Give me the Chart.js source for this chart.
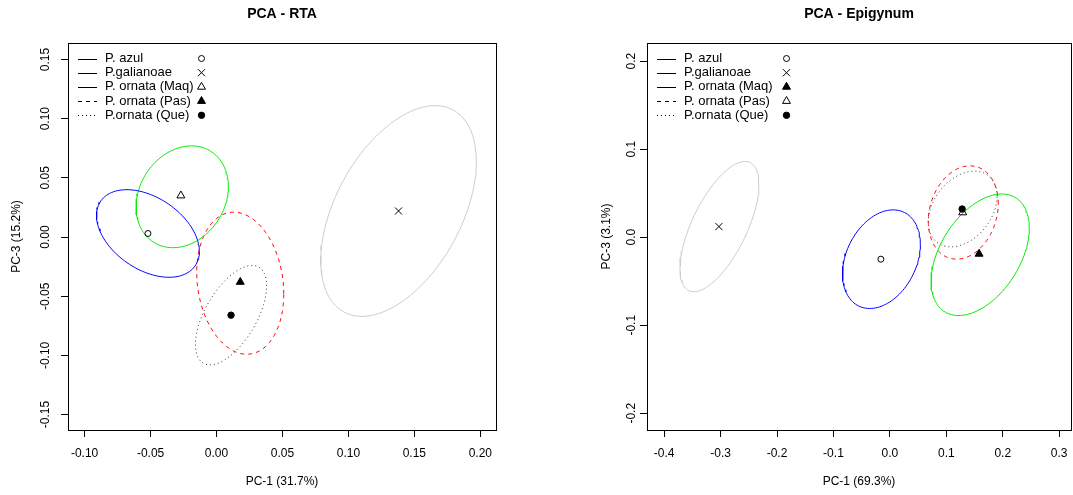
<!DOCTYPE html>
<html>
<head>
<meta charset="utf-8">
<script src="https://cdn.jsdelivr.net/npm/chart.js@4"></script>
<style>
  body { margin: 0; background: #fff; width: 1073px; height: 495px; position: relative; overflow: hidden; }
  canvas { position: absolute; top: 0; }
</style>
</head>
<body>
<canvas id="rta" width="536" height="495" style="left:0"></canvas>
<canvas id="epi" width="540" height="495" style="left:537px"></canvas>
<script>
const groups = ["P. azul", "P.galianoae", "P. ornata (Maq)", "P. ornata (Pas)", "P.ornata (Que)"];
const groupColors = ["#0000ff", "#cccccc", "#00ee00", "#ff0000", "#333333"];
const groupDash = [[], [], [], [4, 4], [1, 3]];

// PCA - RTA: group means
const rtaPC1 = [-0.052, 0.138, -0.027, 0.018, 0.011];
const rtaPC3 = [0.003, 0.022, 0.035, -0.038, -0.066];
const rtaSymbols = ["circleOpen", "crossRot", "triangleOpen", "triangle", "circle"];
// ellipses: centre, half width, half height, correlation
const rtaEllCx = [-0.052, 0.138, -0.026, 0.018, 0.011];
const rtaEllCy = [0.003, 0.022, 0.034, -0.039, -0.066];
const rtaEllW = [0.039, 0.059, 0.035, 0.033, 0.027];
const rtaEllH = [0.037, 0.089, 0.043, 0.060, 0.042];
const rtaEllR = [-0.41, 0.47, 0.20, -0.15, 0.59];
const rtaXTicks = [-0.10, -0.05, 0.00, 0.05, 0.10, 0.15, 0.20];
const rtaYTicks = [-0.15, -0.10, -0.05, 0.00, 0.05, 0.10, 0.15];

// PCA - Epigynum: group means
const epiPC1 = [-0.016, -0.303, 0.158, 0.129, 0.128];
const epiPC3 = [-0.025, 0.012, -0.019, 0.028, 0.032];
const epiSymbols = ["circleOpen", "crossRot", "triangle", "triangleOpen", "circle"];
const epiEllCx = [-0.015, -0.302, 0.160, 0.130, 0.129];
const epiEllCy = [-0.025, 0.012, -0.020, 0.028, 0.032];
const epiEllW = [0.069, 0.070, 0.087, 0.062, 0.061];
const epiEllH = [0.056, 0.074, 0.069, 0.053, 0.043];
const epiEllR = [0.30, 0.65, 0.44, 0.19, 0.34];
const epiXTicks = [-0.4, -0.3, -0.2, -0.1, 0.0, 0.1, 0.2, 0.3];
const epiYTicks = [-0.2, -0.1, 0.0, 0.1, 0.2];

Chart.defaults.font.family = "'Liberation Sans', Arial, sans-serif";
Chart.defaults.color = "#000";

function ellipse(cx, cy, w, h, r) {
  const pts = [];
  const s = Math.sqrt(1 - r * r);
  for (let i = 0; i <= 120; i++) {
    const t = i / 120 * 2 * Math.PI;
    pts.push({ x: cx + w * Math.cos(t), y: cy + h * (r * Math.cos(t) + s * Math.sin(t)) });
  }
  return pts;
}

function symbolStyle(sym) {
  const open = sym.endsWith("Open");
  const style = open ? sym.replace("Open", "") : sym;
  let radius = 3.2;
  if (style === "triangle") radius = 4.6;
  if (style === "crossRot") radius = 5;
  return { pointStyle: style, radius: open && style === "circle" ? 3 : radius, fill: open ? "rgba(0,0,0,0)" : "#000" };
}

const boxPlugin = {
  id: "box",
  afterDraw(chart) {
    const a = chart.chartArea, ctx = chart.ctx;
    ctx.save();
    ctx.strokeStyle = "#000";
    ctx.lineWidth = 1;
    ctx.strokeRect(Math.round(a.left) + 0.5, Math.round(a.top) + 0.5, Math.round(a.right - a.left), Math.round(a.bottom - a.top));
    ctx.restore();
  }
};

const legendPlugin = {
  id: "pcaLegend",
  afterDraw(chart, args, opts) {
    const a = chart.chartArea, ctx = chart.ctx;
    ctx.save();
    ctx.font = "13px 'Liberation Sans', Arial, sans-serif";
    ctx.textBaseline = "middle";
    groups.forEach((g, i) => {
      const y = a.top + 15.5 + i * 14.2;
      ctx.strokeStyle = "#000";
      ctx.lineWidth = 1;
      ctx.setLineDash(groupDash[i]);
      ctx.beginPath();
      ctx.moveTo(a.left + 10, Math.round(y) + 0.5);
      ctx.lineTo(a.left + 29, Math.round(y) + 0.5);
      ctx.stroke();
      ctx.setLineDash([]);
      ctx.fillStyle = "#000";
      ctx.fillText(g, a.left + 37, y);
      const st = symbolStyle(opts.symbols[i]);
      ctx.fillStyle = st.fill;
      Chart.helpers.drawPoint(ctx, { pointStyle: st.pointStyle, radius: st.radius, rotation: 0, borderWidth: 1 }, a.left + opts.symbolX, y);
    });
    ctx.restore();
  }
};

function makeChart(id, cfg) {
  const datasets = [];
  groups.forEach((g, i) => {
    datasets.push({
      label: g + " ellipse",
      data: ellipse(cfg.ellCx[i], cfg.ellCy[i], cfg.ellW[i], cfg.ellH[i], cfg.ellR[i]),
      showLine: true, pointRadius: 0, borderColor: groupColors[i], borderWidth: 1,
      borderDash: groupDash[i], fill: false, tension: 0, order: 2
    });
  });
  groups.forEach((g, i) => {
    const st = symbolStyle(cfg.symbols[i]);
    datasets.push({
      label: g,
      data: [{ x: cfg.pc1[i], y: cfg.pc3[i] }],
      pointStyle: st.pointStyle, pointRadius: st.radius, pointBorderWidth: 1,
      pointBorderColor: "#000", pointBackgroundColor: st.fill, showLine: false, order: 1
    });
  });
  return new Chart(document.getElementById(id), {
    type: "scatter",
    data: { datasets },
    options: {
      responsive: false,
      animation: false,
      layout: { padding: { left: 0, right: cfg.padRight, top: 0, bottom: 0 } },
      plugins: {
        legend: { display: false },
        tooltip: { enabled: false },
        title: { display: true, text: cfg.title, fullSize: false, color: "#000",
          font: { size: 14, weight: "bold" }, padding: { top: 6, bottom: 20.2 } },
        pcaLegend: { symbols: cfg.symbols, symbolX: cfg.symbolX }
      },
      scales: {
        x: {
          type: "linear", min: cfg.xMin, max: cfg.xMax,
          afterBuildTicks: s => { s.ticks = cfg.xTicks.map(v => ({ value: v })); },
          afterFit: s => { s.height = 65; s.paddingLeft = 0; s.paddingRight = 0; },
          grid: { drawOnChartArea: false, drawTicks: true, tickLength: 7, color: "#000", tickColor: "#000" },
          border: { display: true, color: "#000" },
          ticks: { color: "#000", font: { size: 12 }, padding: 9, maxRotation: 0, minRotation: 0,
            callback: v => v.toFixed(cfg.digits) },
          title: { display: true, text: cfg.xTitle, color: "#000", font: { size: 12 }, padding: { top: 0, bottom: 6 } }
        },
        y: {
          type: "linear", min: cfg.yMin, max: cfg.yMax,
          afterBuildTicks: s => { s.ticks = cfg.yTicks.map(v => ({ value: v })); },
          afterFit: s => { s.width = cfg.yWidth; s.paddingTop = 0; s.paddingBottom = 0; },
          grid: { drawOnChartArea: false, drawTicks: true, tickLength: 7, color: "#000", tickColor: "#000" },
          border: { display: true, color: "#000" },
          ticks: { color: "#000", font: { size: 12 }, padding: cfg.yTickPad, minRotation: 90, maxRotation: 90,
            crossAlign: "center", callback: v => v.toFixed(cfg.digits) },
          title: { display: true, text: cfg.yTitle, color: "#000", font: { size: 12 }, padding: { top: cfg.yTitlePad, bottom: 0 } }
        }
      }
    },
    plugins: [boxPlugin, legendPlugin]
  });
}

makeChart("rta", {
  title: "PCA - RTA", xTitle: "PC-1 (31.7%)", yTitle: "PC-3 (15.2%)",
  pc1: rtaPC1, pc3: rtaPC3, symbols: rtaSymbols,
  ellCx: rtaEllCx, ellCy: rtaEllCy, ellW: rtaEllW, ellH: rtaEllH, ellR: rtaEllR,
  xTicks: rtaXTicks, yTicks: rtaYTicks, digits: 2,
  xMin: -0.1126, xMax: 0.2119, yMin: -0.163, yMax: 0.1639,
  padRight: 40, yWidth: 68, yTickPad: 2, yTitlePad: 9.8, symbolX: 133.5
});

makeChart("epi", {
  title: "PCA - Epigynum", xTitle: "PC-1 (69.3%)", yTitle: "PC-3 (3.1%)",
  pc1: epiPC1, pc3: epiPC3, symbols: epiSymbols,
  ellCx: epiEllCx, ellCy: epiEllCy, ellW: epiEllW, ellH: epiEllH, ellR: epiEllR,
  xTicks: epiXTicks, yTicks: epiYTicks, digits: 1,
  xMin: -0.4304, xMax: 0.3209, yMin: -0.219, yMax: 0.2205,
  padRight: 0, yWidth: 110, yTickPad: -2, yTitlePad: 62.8, symbolX: 139.5
});
</script>
</body>
</html>
